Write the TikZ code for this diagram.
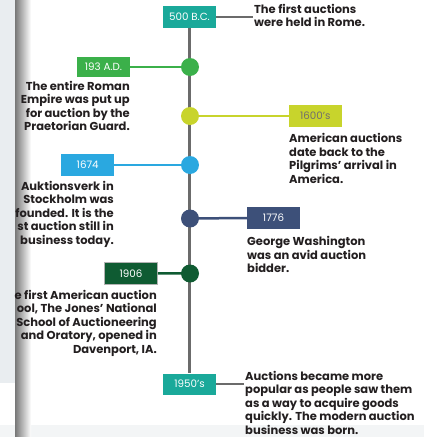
\documentclass[tikz,border=0pt]{standalone}
\usepackage{fontspec}
\setmainfont{Poppins}
\definecolor{tealc}{HTML}{1AA99A}
\definecolor{greenc}{HTML}{3BB04A}
\definecolor{limec}{HTML}{C8D42C}
\definecolor{bluec}{HTML}{2AA8E0}
\definecolor{navyc}{HTML}{3D5079}
\definecolor{dgreenc}{HTML}{0F5B32}
\definecolor{linec}{HTML}{6B6B6B}
\definecolor{textc}{HTML}{231F20}
\definecolor{edgebg}{HTML}{E9EDF0}
\definecolor{bandc}{HTML}{F3F5F6}
\definecolor{shadowc}{HTML}{787878}
\begin{document}
\begin{tikzpicture}[x=1pt,y=-1pt,
  datebox/.style={fill=#1, text=white, minimum width=53, minimum height=22, inner sep=0, font=\fontsize{10.3}{11}\selectfont},
  dot/.style={circle, fill=#1, minimum size=18, inner sep=0},
  desc/.style={font=\bfseries\fontsize{11.5}{13.5}\selectfont, text=textc, inner sep=0},
  conn/.style={draw=#1, line width=2.5}]
\useasboundingbox (0,0) rectangle (424,437);
% page edge and faint bottom band
\fill[bandc] (0,425) rectangle (424,437);
\fill[edgebg] (0,0) rectangle (15,383);
\shade[left color=shadowc, right color=white, shading angle=90] (15,0) rectangle (31,437);
% date boxes
\node[datebox=tealc] (b500) at (189.5,17) {500 B.C.};
\node[datebox=greenc, minimum height=20] (b193) at (103.5,67) {193 A.D.};
\node[datebox=limec, text=textc!65] (b1600) at (315.3,116) {1600’s};
\node[datebox=bluec] (b1674) at (87.7,165) {1674};
\node[datebox=navyc] (b1776) at (273.5,218) {1776};
\node[datebox=dgreenc, draw=gray!60, line width=0.8] (b1906) at (131,273.3) {1906};
\node[datebox=tealc, minimum height=21] (b1950) at (189.5,384) {1950’s};
% connector ends
\coordinate (e500) at (253,17);
\coordinate (e1950) at (244,384);
% circle centres
\coordinate (p193) at (190,67);
\coordinate (p1600) at (190,116);
\coordinate (p1674) at (190,165);
\coordinate (p1776) at (190,218.5);
\coordinate (p1906) at (190,273.5);
% lines
\draw[draw=linec, line width=2.7] (b500.south) -- (b1950.north);
\draw[conn=linec] (b500.east) -- (e500);
\draw[conn=linec] (b1950.east) -- (e1950);
\draw[conn=greenc] (b193.east) -- (p193);
\draw[conn=limec] (p1600) -- (b1600.west);
\draw[conn=bluec] (b1674.east) -- (p1674);
\draw[conn=navyc] (p1776) -- (b1776.west);
\draw[conn=dgreenc] (b1906.east) -- (p1906);
\node[dot=greenc] (c193) at (p193) {};
\node[dot=limec] (c1600) at (p1600) {};
\node[dot=bluec] (c1674) at (p1674) {};
\node[dot=navyc] (c1776) at (p1776) {};
\node[dot=dgreenc] (c1906) at (p1906) {};
% descriptions (anchored at the baseline of the last line)
\node[desc, anchor=base west, align=left] (t500) at (254,26.7) {The first auctions\\were held in Rome.};
\node[desc, anchor=base east, align=right] (t193) at (130,130.7) {The entire Roman\\Empire was put up\\for auction by the\\Praetorian Guard.};
\node[desc, anchor=base west, align=left] (t1600) at (289,183.3) {American auctions\\date back to the\\Pilgrims’ arrival in\\America.};
\node[desc, anchor=base east, align=right] (t1674) at (114,244) {Auktionsverk in\\Stockholm was\\founded. It is the\\st auction still in\\business today.};
\node[desc, anchor=base west, align=left] (t1776) at (247,272.7) {George Washington\\was an avid auction\\bidder.};
\node[desc, anchor=base east, align=right] (t1906) at (157,353.3) {e first American auction\\ool, The Jones’ National\\School of Auctioneering\\and Oratory, opened in\\Davenport, IA.};
\node[desc, anchor=base west, align=left] (t1950) at (245,434) {Auctions became more\\popular as people saw them\\as a way to acquire goods\\quickly. The modern auction\\business was born.};
\end{tikzpicture}
\end{document}
